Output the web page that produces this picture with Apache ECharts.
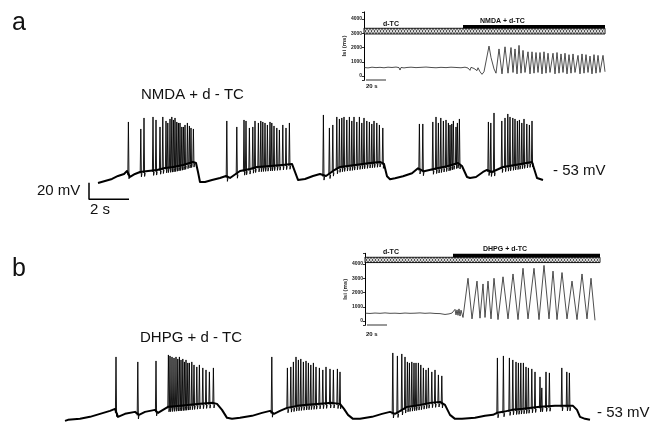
<!DOCTYPE html>
<html><head><meta charset="utf-8">
<script src="https://cdn.jsdelivr.net/npm/echarts@6/dist/echarts.min.js"></script>
<style>html,body{margin:0;padding:0;background:#fff}#c{width:658px;height:426px}</style>
</head><body><div id="c"></div>
<script>
// ---------- DATA (time in s, membrane potential in mV, ISI in ms) ----------
// Panel a: NMDA + d-TC, slow membrane trace (baseline shape) [t, mV]
const traceA_baseline = [
[0,-66.2],[0.35,-63.8],[0.7,-61.4],[1.0,-57.8],[1.3,-55.4],[1.45,-51.8],[1.6,-59.0],[1.85,-55.4],[2.1,-53.0],[2.5,-51.8],[2.95,-50.6],[3.35,-48.2],[3.75,-47.0],[4.25,-44.6],[4.75,-41.0],[4.9,-42.2],[5.0,-53.0],[5.1,-65.0],
[5.35,-65.0],[5.7,-62.6],[6.1,-60.2],[6.4,-57.8],[6.6,-60.2],[7.1,-51.8],[7.6,-49.4],[7.95,-47.0],[8.6,-45.8],[9.2,-44.6],[9.7,-43.4],[9.85,-53.0],[10.0,-62.6],
[10.35,-61.4],[10.75,-57.8],[11.1,-55.4],[11.4,-57.8],[11.75,-51.8],[12.1,-47.0],[12.85,-44.6],[13.6,-42.2],[14.1,-41.0],[14.3,-43.4],[14.45,-58.2],[14.6,-61.8],
[14.85,-60.6],[15.25,-58.2],[15.7,-54.6],[16.0,-48.6],[16.3,-52.2],[16.95,-48.6],[17.45,-46.2],[18.0,-42.2],[18.2,-45.8],[18.45,-59.0],[18.6,-60.2],
[18.9,-59.0],[19.25,-53.0],[19.45,-50.6],[19.7,-53.0],[20.25,-47.0],[20.85,-44.6],[21.7,-41.0],[21.8,-43.4],[21.95,-60.2],[22.1,-61.4],[22.2,-59.0],[22.25,-62.6]
];
// Panel a: action potentials [t, peak mV]
const traceA_spikes = [
[1.52,7.0],[2.14,-1.4],[2.30,11.8],[2.75,13.0],[2.90,9.4],[3.10,1.0],[3.24,13.0],[3.40,8.2],[3.49,5.8],[3.60,10.6],[3.69,13.0],[3.77,9.4],[3.85,11.8],[3.94,7.0],[4.02,5.8],[4.10,5.8],[4.19,1.0],[4.27,1.0],[4.35,3.4],[4.47,5.8],[4.57,2.2],[4.65,-0.2],[4.77,-1.4],
[6.44,8.2],[6.94,1.0],[7.30,9.4],[7.40,8.2],[7.57,-0.2],[7.74,1.0],[7.85,8.2],[8.02,5.8],[8.14,8.2],[8.24,7.0],[8.35,5.8],[8.47,3.4],[8.60,7.0],[8.69,5.8],[8.80,2.2],[8.94,-0.2],[9.07,-2.6],[9.24,3.4],[9.40,-0.2],[9.57,5.8],
[11.27,15.4],[11.57,-0.2],[11.74,3.4],[11.94,13.0],[12.07,10.6],[12.19,11.8],[12.30,13.0],[12.44,9.4],[12.57,13.0],[12.69,8.2],[12.80,13.0],[12.94,7.0],[13.07,13.0],[13.19,5.8],[13.30,11.8],[13.44,8.2],[13.57,7.0],[13.69,4.6],[13.80,8.2],[13.94,5.8],[14.07,3.4],[14.24,-0.2],
[16.07,4.6],[16.24,4.6],[16.74,7.0],[16.90,13.0],[17.02,5.8],[17.14,11.8],[17.27,8.2],[17.40,9.4],[17.52,5.8],[17.60,3.4],[17.69,4.6],[17.77,8.2],[17.90,1.0],[17.97,5.8],[18.07,10.6],
[19.52,7.0],[19.64,5.8],[19.80,17.8],[20.19,8.2],[20.35,11.8],[20.49,16.6],[20.60,13.0],[20.74,11.8],[20.85,10.6],[20.97,8.2],[21.07,9.4],[21.19,5.8],[21.30,10.6],[21.44,4.6],[21.57,3.4],[21.70,8.2]
];
// Panel b: DHPG + d-TC
const traceB_baseline = [
[0,-63.8],[0.15,-62.6],[0.75,-61.4],[1.25,-59.0],[1.75,-55.4],[2.25,-51.8],[2.5,-49.4],[2.65,-59.0],[3.0,-55.4],[3.5,-53.0],[3.7,-56.6],[4.0,-53.0],[4.5,-50.6],[4.65,-54.2],[4.9,-50.6],[5.15,-47.0],[5.75,-45.8],[6.25,-44.6],[6.75,-43.4],[7.4,-42.2],[7.6,-43.4],[7.85,-50.6],[8.1,-60.2],[8.35,-61.4],
[8.75,-60.2],[9.35,-57.8],[9.85,-54.2],[10.25,-51.8],[10.45,-55.4],[10.75,-51.8],[11.1,-48.2],[11.6,-45.8],[12.1,-44.6],[12.75,-43.4],[13.35,-42.2],[13.75,-43.4],[13.95,-49.4],[14.15,-56.6],[14.4,-61.4],
[14.75,-61.4],[15.35,-59.0],[15.85,-55.4],[16.25,-53.0],[16.5,-55.4],[16.85,-50.6],[17.1,-47.0],[17.75,-44.6],[18.25,-42.2],[18.75,-41.0],[19.0,-44.6],[19.25,-56.6],[19.5,-61.4],
[19.85,-61.4],[20.5,-60.2],[21.0,-57.8],[21.4,-56.6],[21.6,-54.2],[21.9,-53.0],[22.35,-50.6],[22.9,-49.4],[23.75,-47.0],[24.5,-45.8],[25.4,-45.8],[25.6,-50.6],[25.75,-59.0],[26.0,-61.4],[26.25,-62.6]
];
const traceB_spikes = [
[2.55,13.0],[3.64,7.0],[4.55,8.2],[5.17,15.4],[5.25,14.2],[5.35,13.0],[5.45,11.8],[5.55,13.0],[5.64,10.6],[5.72,13.0],[5.80,9.4],[5.89,10.6],[5.97,7.0],[6.05,9.4],[6.14,5.8],[6.22,5.8],[6.34,7.0],[6.45,3.4],[6.59,1.0],[6.72,3.4],[6.89,-0.2],[7.05,-2.6],[7.22,-5.0],[7.42,-0.2],
[10.34,13.0],[11.12,-0.2],[11.29,1.0],[11.42,7.0],[11.55,13.0],[11.67,9.4],[11.79,10.6],[11.92,7.0],[12.05,8.2],[12.17,5.8],[12.29,3.4],[12.42,5.8],[12.55,1.0],[12.72,-0.2],[12.89,-2.6],[13.05,1.0],[13.25,-1.4],[13.42,-2.6],[13.62,-1.4],[13.75,-5.0],
[16.39,17.8],[16.62,14.2],[16.84,16.6],[17.0,13.0],[17.12,7.0],[17.22,5.8],[17.34,7.0],[17.45,5.8],[17.55,5.8],[17.67,5.8],[17.79,3.4],[17.92,-0.2],[18.05,-2.6],[18.17,-0.2],[18.34,-5.0],[18.5,-2.6],[18.67,-8.6],[18.84,-9.8],
[21.62,11.8],[21.92,14.2],[22.22,11.8],[22.39,9.4],[22.55,7.0],[22.67,5.8],[22.79,5.8],[22.92,5.8],[23.05,1.0],[23.17,-0.2],[23.34,-1.4],[23.5,-5.0],[23.75,-11.0],[23.84,-24.2],[24.05,-5.0],[24.22,-6.2],[24.84,-0.2],[25.09,-5.0],[25.22,-6.2]
];
// Inset a: interspike interval (ms) vs time (s)
const insetA_isi = [
[0,600],[4,570],[8,620],[12,590],[16,610],[20,580],[24,620],[28,600],[32,630],[35,590],[36,420],[37,600],[40,570],[42,450],[43,600],[47,620],[52,590],[57,610],[62,630],[67,600],[72,580],[77,610],[82,590],[87,620],[92,600],[97,580],[101,620],[104,560],[106,400],[107,610],[110,530],[112,660],[113,380],[114,580],[116,300],[118,120],[120,300],[125,2100],[127,1300],[130,500],[132,200],
[135,1900],[138,150],[141,2050],[144,200],[147,2000],[149,250],[151,1900],[153,150],[155,2150],[157,200],[159,1800],[161,250],[164,1700],[166,150],[168,1700],[170,200],[172,1650],[174,250],[176,1650],[178,150],[180,1700],[182,200],[184,1600],[186,250],[189,1600],[191,150],[193,1650],[195,200],[197,1550],[199,250],[201,1600],[203,150],[205,1500],[207,200],[209,1550],[211,250],[214,1450],[216,150],[218,1550],[220,200],[222,1500],[224,250],[226,1400],[228,150],[230,1500],[232,200],[234,1450],[236,250],[239,1450],[241,300]
];
const insetB_isi = [
[0,550],[5,530],[10,560],[15,540],[20,570],[25,540],[30,550],[35,530],[40,560],[45,540],[50,550],[55,570],[60,540],[65,560],[70,530],[75,520],[80,460],[84,500],[87,560],[89,520],[90,820],[91,430],[92,780],[93,400],[94,850],[95,350],[96,760],[98,250],[100,150],
[103,3000],[107,150],[112,2800],[115,200],[118,2600],[120,250],[123,2800],[126,150],[129,3000],[133,100],[138,3100],[143,150],[148,3300],[153,100],[158,3700],[163,150],[169,3700],[174,100],[179,3900],[184,150],[188,3500],[192,100],[197,3400],[202,150],[207,2800],[212,100],[217,3300],[222,150],[226,3000],[230,50]
];
// Drug application bars: [start s, end s, low ms, high ms]
const insetA_dTC = [[0,241,2950,3350]];
const insetA_drug = [[99,241,3350,3580]];
const insetB_dTC = [[0,235,4100,4470]];
const insetB_drug = [[88,235,4470,4720]];
// Scale bars
const scaleBarA = [[-0.45,-65.8],[-0.45,-85.8],[1.55,-85.8]]; // 20 mV, 2 s
const insetScaleBar = [[2,-280],[22,-280]];                    // 20 s
const isiTickLabels = [0,1000,2000,3000,4000];

// ---------- helpers ----------
function baseAt(bl, t){
  for (let i=1;i<bl.length;i++){
    if (t<=bl[i][0]){const a=bl[i-1],b=bl[i];const f=(t-a[0])/(b[0]-a[0]);return a[1]+f*(b[1]-a[1]);}
  }
  return bl[bl.length-1][1];
}
function spikeItems(bl, sp){ return sp.map(s=>[s[0], baseAt(bl,s[0])-3, s[1]]); }
function spikeRender(params, api){
  const a = api.coord([api.value(0), api.value(1)]);
  const b = api.coord([api.value(0), api.value(2)]);
  return {type:'polyline', shape:{points:[[a[0]-0.6,a[1]-1],[b[0],b[1]],[a[0]+0.6,a[1]+2.5],[a[0]+1.2,a[1]-1]]},
          style:{stroke:'#000', lineWidth:0.9, fill:null}};
}
function hatchRender(params, api){
  const p0 = api.coord([api.value(0), api.value(3)]);
  const p1 = api.coord([api.value(1), api.value(2)]);
  const x0=p0[0], y0=p0[1], x1=p1[0], y1=p1[1];
  const per=6, pts1=[], pts2=[];
  let i=0;
  for (let x=x0; x<=x1+0.01; x+=per/2, i++){ pts1.push([x, i%2? y1:y0]); pts2.push([x, i%2? y0:y1]); }
  return {type:'group', children:[
    {type:'rect', shape:{x:x0,y:y0,width:x1-x0,height:y1-y0}, style:{fill:'#fff', stroke:'#000', lineWidth:0.9}},
    {type:'polyline', shape:{points:pts1}, style:{stroke:'#000', lineWidth:0.6, fill:null}},
    {type:'polyline', shape:{points:pts2}, style:{stroke:'#000', lineWidth:0.6, fill:null}}
  ]};
}
function solidRender(params, api){
  const p0 = api.coord([api.value(0), api.value(3)]);
  const p1 = api.coord([api.value(1), api.value(2)]);
  return {type:'rect', shape:{x:p0[0],y:p0[1],width:p1[0]-p0[0],height:p1[1]-p0[1]}, style:{fill:'#000'}};
}

const FONT = 'Liberation Sans, Arial, sans-serif';
function isiAxis(gi, max){
  return {gridIndex:gi, type:'value', min:-300, max:max,
    axisLine:{show:true, lineStyle:{color:'#000', width:1}},
    axisTick:{show:true, length:2, lineStyle:{color:'#000', width:0.8}},
    splitLine:{show:false},
    axisLabel:{fontSize:5, fontWeight:'bold', color:'#222', margin:2, fontFamily:FONT,
      formatter:v=> isiTickLabels.indexOf(v)>=0 ? String(v) : ''},
    name:'Isi (ms)', nameLocation:'middle', nameRotate:90, nameGap:16,
    nameTextStyle:{fontSize:6, fontWeight:'bold', color:'#222', fontFamily:FONT}};
}
function txt(text, x, y, size, bold){
  return {type:'text', x:x, y:y, style:{text:text, fontSize:size, fontFamily:FONT, fontWeight:bold?'bold':'normal', fill:'#111', verticalAlign:'middle', align:'left'}};
}

const chart = echarts.init(document.getElementById('c'), null, {renderer:'canvas'});
chart.setOption({
  animation:false,
  backgroundColor:'#fff',
  grid:[
    {left:78, top:102.8, width:470, height:100},
    {left:65, top:342.8, width:530, height:83.33},
    {left:364, top:11.9, width:241, height:68.4},
    {left:365, top:253.3, width:235, height:72}
  ],
  xAxis:[
    {gridIndex:0, type:'value', min:-1, max:22.5, show:false},
    {gridIndex:1, type:'value', min:0, max:26.5, show:false},
    {gridIndex:2, type:'value', min:0, max:241, show:false},
    {gridIndex:3, type:'value', min:0, max:235, show:false}
  ],
  yAxis:[
    {gridIndex:0, type:'value', min:-90, max:30, show:false},
    {gridIndex:1, type:'value', min:-70, max:30, show:false},
    isiAxis(2, 4500),
    isiAxis(3, 4750)
  ],
  series:[
    {type:'line', xAxisIndex:0, yAxisIndex:0, data:traceA_baseline, symbol:'none', lineStyle:{color:'#000', width:2, join:'round'}},
    {type:'custom', xAxisIndex:0, yAxisIndex:0, data:spikeItems(traceA_baseline, traceA_spikes), renderItem:spikeRender, encode:{x:0, y:[1,2]}},
    {type:'line', xAxisIndex:0, yAxisIndex:0, data:scaleBarA, symbol:'none', clip:false, lineStyle:{color:'#000', width:1.5}},
    {type:'line', xAxisIndex:1, yAxisIndex:1, data:traceB_baseline, symbol:'none', lineStyle:{color:'#000', width:2, join:'round'}},
    {type:'custom', xAxisIndex:1, yAxisIndex:1, data:spikeItems(traceB_baseline, traceB_spikes), renderItem:spikeRender, encode:{x:0, y:[1,2]}},
    {type:'line', xAxisIndex:2, yAxisIndex:2, data:insetA_isi, symbol:'none', lineStyle:{color:'#222', width:0.8}},
    {type:'custom', xAxisIndex:2, yAxisIndex:2, data:insetA_dTC, renderItem:hatchRender, encode:{x:[0,1], y:[2,3]}},
    {type:'custom', xAxisIndex:2, yAxisIndex:2, data:insetA_drug, renderItem:solidRender, encode:{x:[0,1], y:[2,3]}},
    {type:'line', xAxisIndex:2, yAxisIndex:2, data:insetScaleBar, symbol:'none', clip:false, lineStyle:{color:'#333', width:1}},
    {type:'line', xAxisIndex:3, yAxisIndex:3, data:insetB_isi, symbol:'none', lineStyle:{color:'#222', width:0.8}},
    {type:'custom', xAxisIndex:3, yAxisIndex:3, data:insetB_dTC, renderItem:hatchRender, encode:{x:[0,1], y:[2,3]}},
    {type:'custom', xAxisIndex:3, yAxisIndex:3, data:insetB_drug, renderItem:solidRender, encode:{x:[0,1], y:[2,3]}},
    {type:'line', xAxisIndex:3, yAxisIndex:3, data:insetScaleBar, symbol:'none', clip:false, lineStyle:{color:'#333', width:1}}
  ],
  graphic:[
    txt('a', 12, 23, 25),
    txt('b', 12, 269, 25),
    txt('NMDA + d - TC', 141, 95, 15),
    txt('DHPG + d - TC', 140, 337.5, 15),
    txt('- 53 mV', 553, 171, 15),
    txt('- 53 mV', 597, 413, 15),
    txt('20 mV', 37, 191, 15),
    txt('2 s', 90, 210, 15),
    txt('d-TC', 383, 24.5, 7, true),
    txt('NMDA + d-TC', 480, 21, 7, true),
    txt('20 s', 366, 86, 6, true),
    txt('d-TC', 383, 252, 7, true),
    txt('DHPG + d-TC', 483, 249, 7, true),
    txt('20 s', 366, 334, 6, true)
  ]
});
</script></body></html>
